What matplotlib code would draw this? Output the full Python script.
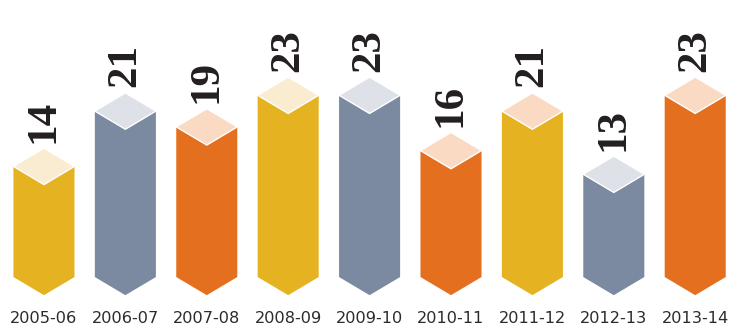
import matplotlib.pyplot as plt

# data
seasons = ['2005-06', '2006-07', '2007-08', '2008-09', '2009-10',
           '2010-11', '2011-12', '2012-13', '2013-14']
values = [14, 21, 19, 23, 23, 16, 21, 13, 23]
front_colors = ['#E5B322', '#7B8AA0', '#E4701F', '#E5B322', '#7B8AA0',
                '#E4701F', '#E5B322', '#7B8AA0', '#E4701F']
top_colors = ['#FAECD1', '#DEE1E8', '#FADAC3', '#FAECD1', '#DEE1E8',
              '#FADAC3', '#FADAC3', '#DEE1E8', '#FADAC3']

w = 0.375   # half width of a bar (x units)
h = 2.3     # half height of the top diamond / bottom point (value units)

fig = plt.figure(figsize=(7.29, 3.26), dpi=100)
ax = fig.add_axes([0, 0, 1, 1])
ax.set_xlim(-0.54, 8.415)
ax.set_ylim(-6.2, 35.06)
ax.axis('off')

for i, (v, fc, tc) in enumerate(zip(values, front_colors, top_colors)):
    # front face with pointed bottom
    ax.fill([i - w, i, i + w, i + w, i, i - w],
            [v, v - h, v, 0, -h, 0],
            color=fc, lw=0)
    # top diamond
    ax.fill([i, i + w, i, i - w], [v + h, v, v - h, v],
            facecolor=tc, edgecolor='white', lw=1)
    # value label
    ax.text(i, v + h + 0.7, str(v), rotation=90, ha='center', va='bottom',
            family='Liberation Serif', fontweight='bold', fontsize=31,
            color='#231f20')
    # season label
    ax.text(i, -5.2, seasons[i], ha='center', va='center',
            family='DejaVu Sans', fontsize=11.6, color='#2b2b2b')

fig.savefig('out.png', dpi=100)
